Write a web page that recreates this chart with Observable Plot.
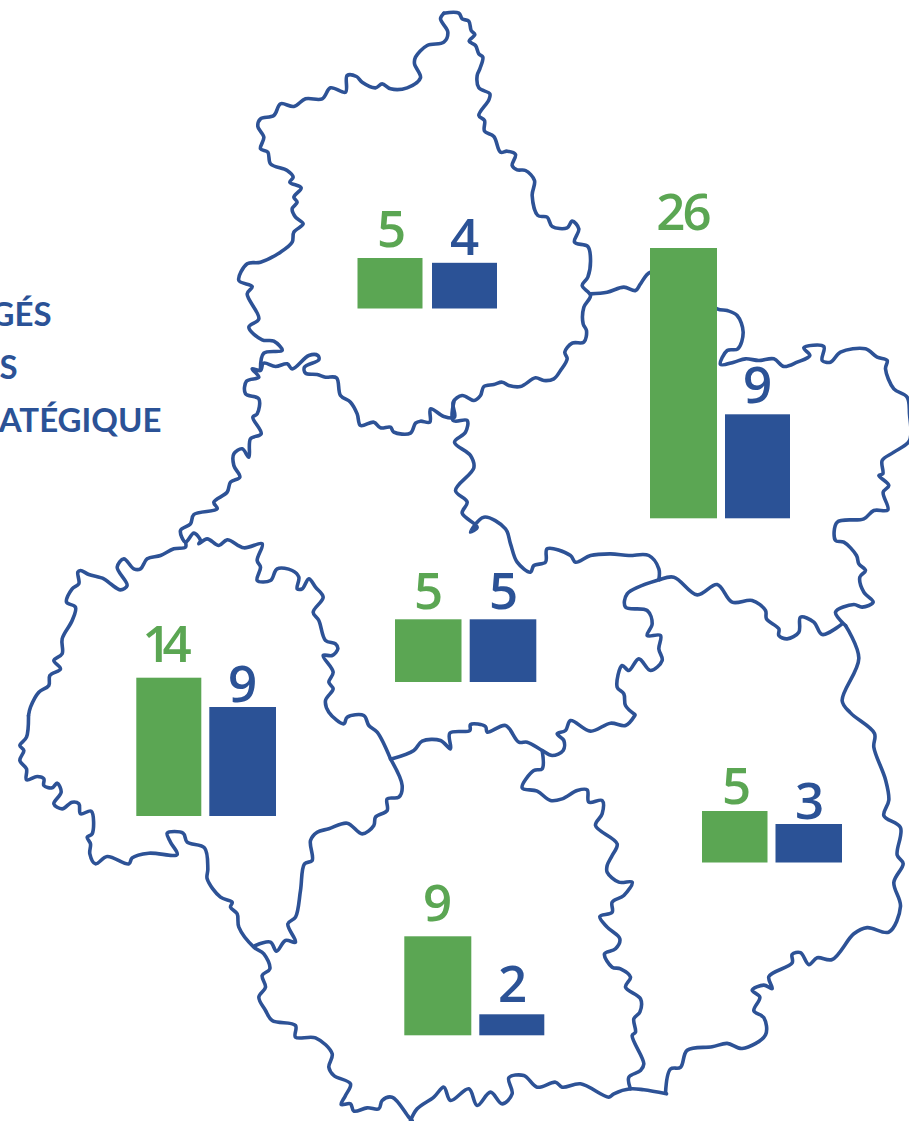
<!DOCTYPE html>
<html><head><meta charset="utf-8">
<style>html,body{margin:0;padding:0;background:#fff}svg{display:block}
.ls26 text{letter-spacing:-3px}.ls14 text{letter-spacing:-9px}</style>
<script src="https://cdn.jsdelivr.net/npm/d3@7"></script>
<script src="https://cdn.jsdelivr.net/npm/@observablehq/plot@0.6"></script>
</head><body><script>
const BLUE="#2b5296", GREEN="#5ba653", LINE="#2d5296";
// Region borders: [originX, originY, scaleX, scaleY, x,y,x,y,...]
const northBorder=[230,0,3,3,640,38,685,38,695,55,715,62,722,90,733,102,716,122,735,135,745,160,757,170,748,205,740,225,745,262,778,280,775,298,745,345,762,360,762,392,790,408,810,455,830,452,855,462,845,495,860,508,885,510,912,540,905,585,922,645,950,650,965,678,1010,682,1025,662,1045,685,1032,725,1072,738,1080,775,1072,830,1055,855,1080,885,1060,920,1058,970,1068,990,1060,1025,1025,1028,1003,1055,1010,1075,990,1110,970,1135,940,1140,915,1132,870,1158,835,1155,815,1145,790,1152,760,1158,750,1185,730,1200,695,1185,668,1205,672,1250,640,1248,600,1225,598,1265,570,1262,555,1268,540,1298,490,1295,480,1280,450,1282,430,1265,390,1275,380,1240,360,1205,330,1185,318,1132,285,1130,260,1122,225,1118,222,1100,265,1078,262,1065,235,1065,185,1105,170,1090,135,1098,100,1088,90,1105];
const northWest=[230,0,3,3,90,1105,100,1058,155,1050,130,1022,95,1018,55,980,85,955,50,880,65,858,25,840,50,790,90,785,150,755,185,725,190,695,218,670,195,650,185,625,200,605,190,590,212,562,178,545,188,530,170,510,120,490,112,455,90,445,100,410,82,378,90,355,130,345,150,310,190,318,225,295,275,295,300,262,345,275,350,225,378,228,395,245,435,262,455,250,480,265,530,262,570,232,552,190,555,170,590,135,640,125,652,95,630,55,640,38];
const eastTop=[450,260,3,3,420,100,470,95,520,80,555,90,570,70,600,35,700,60,800,145,830,150,860,165,878,215,862,265,830,270,810,312,850,305,885,295,925,300,970,295,1000,318,1040,305,1078,285,1060,262,1120,258,1115,300,1140,305,1170,275,1245,265,1280,290,1310,300,1305,325,1330,385,1370,410,1377,460,1377,540,1330,575,1295,600,1297,640,1285,645,1315,675,1298,695,1312,748,1270,750,1240,775,1160,785,1155,840,1180,845,1218,885,1225,910,1245,930,1228,950,1240,995,1268,1025,1235,1040,1210,1032,1155,1055,1185,1095];
const eastOuter=[600,560,3,2.92,735,190,775,285,725,410,750,445,822,505,820,545,855,640,865,700,850,745,900,780,890,860,908,885,880,940,900,1010,865,1085,800,1072,760,1090,695,1165,650,1160,625,1180,600,1145,575,1150,575,1175,505,1215,515,1250,490,1240,455,1255,478,1275,460,1315,490,1335,495,1385,425,1425,380,1410,335,1420,260,1430,240,1480,210,1485,195,1555];
const eastInner=[450,260,3,3,1175,1090,1115,1122,1090,1085,1050,1070,1045,1115,1010,1135,985,1125,985,1105,948,1075,945,1050,905,1020,845,1025,800,972,740,1003,670,950,625,958,530,1000,525,1040,590,1050,605,1090,590,1125,630,1125,625,1165,635,1200,600,1230,565,1195,535,1230,515,1215,500,1280,520,1300,525,1335,553,1362];
const loiretWest=[450,260,3,3,10,425,8,480,50,480,45,515,12,545,60,585,70,622,15,690,50,725,35,758,80,800,60,815,100,770,165,805,180,850,200,905,240,935,250,915,285,905,290,865,360,885,375,905,420,885,480,880,535,885,595,885,625,925,625,958];
const centerNorth=[0,350,3,3,785,40,780,60,755,55,775,80,738,92,735,130,775,145,770,190,757,200,782,250,750,265,745,320,725,295,700,310,700,345,718,380,690,395,680,425,640,455,650,475,580,492,570,520,540,540,555,575,580,548,600,570,595,580,620,565,655,585,680,568,730,592,785,580,770,630,780,650,770,690,810,690,830,655,875,660,895,680,890,715,905,715,925,685,945,710,968,740,938,785,955,810,975,870,1005,880,1012,895,995,915,968,915,998,965,985,995,998,1015,975,1050,985,1085,1030,1120,1040,1100,1090,1095,1105,1125,1130,1145,1170,1225];
const westTop=[0,350,3,3,555,575,555,590,520,595,480,615,440,625,420,655,400,655,370,625,350,650,380,705,360,718,330,700,310,685,265,672,240,660,232,665,235,700,215,715,198,755,225,770,215,810,185,865,185,910,160,930,180,955,148,975,145,1005,115,1025,90,1070,84,1095];
const westBottom=[0,700,3,3,84,45,78,110,58,135,70,150,58,180,78,205,78,238,110,228,130,235,130,255,155,262,170,248,182,275,160,310,185,325,215,305,235,310,240,340,272,332,275,400,260,410,270,430,268,460,285,490,320,468,385,490,395,472,445,458,530,462,510,425,500,398,548,398,560,425,612,442,622,505,620,535,660,590,695,605,690,620,710,640,715,680,760,740,790,760,808,805,785,825,795,860,775,890,795,930,815,960,885,975,885,1010,945,1012,995,1060,985,1100,1000,1125,1050,1150,1035,1185,1022,1212,1050,1210,1060,1232,1100,1222,1135,1225,1145,1200,1175,1190,1225,1250,1235,1260];
const westRight=[0,700,3,3,1170,175,1205,255,1195,290,1160,295,1160,330,1125,350,1120,375,1085,400,1040,368,985,385,950,395,930,420,935,480,912,490,900,570,885,650,862,670,885,725,855,720,828,752,810,725,765,735];
const southTop=[380,700,3,3,35,175,100,150,125,122,180,120,210,145,208,98,268,90,270,72,315,78,320,95,375,75,415,125,440,125,485,150,515,165,548,150,550,120,530,100,555,90,570,60,630,92,690,68,735,75,763,45];
const southEast=[380,700,3,3,485,150,485,205,460,210,425,262,470,272,510,300,545,295,590,270,620,268,625,305,665,300,665,340,645,375,710,430,695,465,680,495,680,515,715,545,755,545,730,585,695,605,695,635,658,648,680,680,718,715,705,745,672,760,695,800,720,805,750,830,735,860,780,895,778,935,760,955,765,995,755,1005,790,1090,780,1110,745,1130,750,1165];
const southBottom=[380,700,3,3,858,1180,790,1168,750,1165,700,1180,685,1190,600,1150,545,1160,525,1145,470,1160,430,1125,385,1132,395,1180,365,1210,330,1175,290,1215,265,1165,210,1200,190,1160,160,1190,110,1225,90,1260];
const borders=[northBorder,northWest,eastTop,eastOuter,eastInner,loiretWest,centerNorth,westTop,westBottom,westRight,southTop,southEast,southBottom];

// Bars
const greenValues=[5,26,5,14,9,5];
const blueValues=[4,9,5,9,2,3];
const greenLeft=[357.5,650,395,136.3,404.3,702];
const greenRight=[422.5,717,461.5,201.3,471.3,767.5];
const blueLeft=[432,725,469.7,209.3,479.3,775.5];
const blueRight=[497,790,536.3,276,544.3,842];
const baseY=[308.5,518.3,682,816,1035.3,862.5];
const greenTop=[258,248,619.3,677.7,936.3,811];
const blueTop=[262.8,414.3,619.3,707,1014.3,824];
const greenLabelX=[391,682,428,162,437,736];
const blueLabelX=[464,757,503,242,512,809];
const greenLabelY=[246,229,608,661,920,803];
const blueLabelY=[254,402,608,701,1001,818];

// Legend fragments cut by the left edge
const legendTexts=["GÉS","S","ATÉGIQUE"];
const legendX=[51,17,161];
const legendY=[325,378,431];

const pts=[];
borders.forEach((b,id)=>{
  const [ox,oy,kx,ky]=b;
  for(let i=4;i<b.length;i+=2) pts.push({id,x:ox+b[i]/kx,y:oy+b[i+1]/ky});
});
const greens=greenValues.map((v,i)=>({v,x1:greenLeft[i],x2:greenRight[i],y1:baseY[i],y2:greenTop[i],lx:greenLabelX[i],ly:greenLabelY[i]}));
const blues=blueValues.map((v,i)=>({v,x1:blueLeft[i],x2:blueRight[i],y1:baseY[i],y2:blueTop[i],lx:blueLabelX[i],ly:blueLabelY[i]}));
const legend=legendTexts.map((t,i)=>({t,x:legendX[i],y:legendY[i]}));
const digit={fontFamily:"'Open Sans'",fontSize:51,fontWeight:600,lineAnchor:"bottom",text:d=>String(d.v),x:"lx",y:"ly"};

document.body.append(Plot.plot({
  width:909,height:1121,margin:0,
  x:{domain:[0,909],range:[0,909],axis:null},
  y:{domain:[0,1121],range:[0,1121],axis:null},
  marks:[
    Plot.line(pts,{x:"x",y:"y",z:"id",curve:"catmull-rom",stroke:LINE,strokeWidth:3.6,strokeLinejoin:"round",strokeLinecap:"round"}),
    Plot.rect(greens,{x1:"x1",x2:"x2",y1:"y1",y2:"y2",fill:GREEN,inset:0}),
    Plot.rect(blues,{x1:"x1",x2:"x2",y1:"y1",y2:"y2",fill:BLUE,inset:0}),
    Plot.text(greens,{...digit,fill:GREEN,filter:d=>d.v<10}),
    Plot.text(greens,{...digit,fill:GREEN,filter:d=>d.v===26,className:"ls26"}),
    Plot.text(greens,{...digit,fill:GREEN,filter:d=>d.v===14,className:"ls14"}),
    Plot.text(blues,{...digit,fill:BLUE}),
    Plot.text(legend,{x:"x",y:"y",text:"t",textAnchor:"end",lineAnchor:"bottom",fontFamily:"Lato",fontSize:33,fontWeight:700,fill:BLUE})
  ]
}));
</script></body></html>
